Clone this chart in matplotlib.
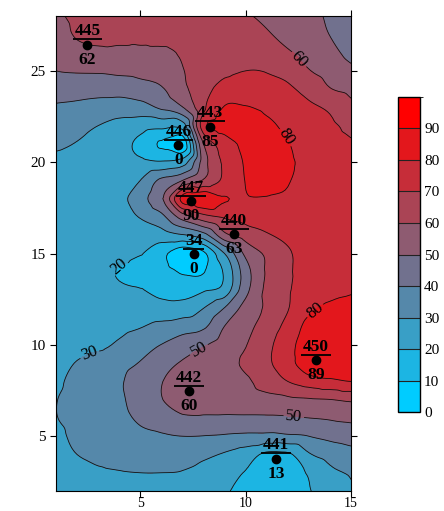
import numpy as np
import matplotlib
matplotlib.use('Agg')
import matplotlib.pyplot as plt
import matplotlib.tri as mtri
from matplotlib.colors import ListedColormap, BoundaryNorm
from matplotlib.transforms import offset_copy

plt.rcParams['font.family'] = ['Liberation Serif', 'DejaVu Serif']

# grid (x = 1..15, y = 2..28)
grid_x = np.arange(1, 16)
grid_y = np.arange(2, 29)
z_rows = [
    [24, 25, 26, 27, 27.5, 27.5, 26.5, 24.5, 21, 17.5, 15, 15, 19.5, 24, 29],          # y=2
    [25.5, 27, 28.5, 29.5, 30, 30, 29.5, 27, 23, 19.5, 15, 15.5, 21, 28, 31],          # y=3
    [27.5, 30, 32.5, 34, 35, 35.5, 34.5, 32, 29, 25, 18, 18.5, 29, 33.5, 36],          # y=4
    [28.5, 31.5, 34, 36, 38, 39, 40, 39.8, 39, 38, 37.5, 38.5, 40, 42.5, 45],          # y=5
    [29.8, 32, 35, 37.5, 41.5, 45, 48, 48.5, 48.5, 48.5, 48.5, 49, 50, 51, 52],        # y=6
    [29.8, 32.5, 35.5, 38.5, 44, 49.5, 58, 56.5, 55.5, 56, 57, 58, 59, 59.8, 61.5],    # y=7
    [28.5, 32.5, 36, 39, 44, 49.5, 57, 57.5, 57.5, 58.5, 64, 70, 75, 78, 80],          # y=8
    [27, 30.5, 34, 37, 40.5, 46, 51, 54, 57.5, 61.5, 68, 76, 87, 86.5, 83.5],          # y=9
    [25.5, 26.5, 28, 31.5, 36, 40.2, 45, 49.2, 54.3, 59.6, 67.3, 76.3, 85.5, 87.5, 86],  # y=10
    [26, 26, 26.5, 27.5, 29.5, 32.5, 35.5, 38.5, 50.2, 57, 64.5, 73, 83, 86, 86.5],    # y=11
    [26.5, 26, 25.5, 25.5, 25, 24, 24, 30, 40.5, 53.8, 61.5, 69.5, 78, 82, 83.5],      # y=12
    [27, 26.5, 25.5, 22, 20.5, 17, 16, 19, 24, 47, 62, 69, 74, 77, 79],                # y=13
    [27, 26, 24, 19, 16, 15, 9, 9.5, 21.5, 45.5, 61, 68.6, 74, 75.5, 77],              # y=14
    [27, 26.5, 25.5, 24, 20.5, 13, 3, 8, 30, 52.3, 61.5, 69, 73.5, 75, 76],            # y=15
    [27, 26, 25, 24, 24, 25.5, 29, 36, 57, 64.5, 69, 72, 74, 75, 75.5],                # y=16
    [26.5, 25.5, 25, 27, 30.5, 37, 54, 66, 71, 73, 75, 76, 76, 75.5, 75],              # y=17
    [26, 25, 25.5, 27.5, 36, 48.5, 83, 88, 80.5, 79, 79.3, 79, 77, 75, 74.5],          # y=18
    [26, 25.5, 25, 26, 30, 42, 50, 61, 72, 80.3, 85, 80.5, 77, 74.5, 74],              # y=19
    [28, 27, 26, 24.5, 22, 21, 25, 55, 72, 81, 86, 81.5, 77.5, 75, 73],                # y=20
    [31.5, 29.5, 26, 23, 17.5, 9, 2, 60, 74, 82.5, 85, 80.5, 75.5, 72.5, 70.8],        # y=21
    [35.3, 33.5, 30, 27, 24.5, 23.1, 25, 76, 85, 86, 82, 77.8, 74.7, 71.6, 68],        # y=22
    [39, 38, 36.5, 35, 36, 41.7, 49.5, 68, 80.5, 80.5, 78, 75.2, 71.6, 68.5, 62.3],    # y=23
    [44, 43.8, 43.3, 43.8, 46, 49, 57.5, 66, 74.2, 75.3, 73.8, 71.5, 67, 60.5, 57.5],  # y=24
    [50, 50.8, 51, 51.8, 52.5, 54, 59.5, 65.5, 68, 70, 69.5, 67, 60.5, 56, 52],        # y=25
    [53.5, 56.7, 57.5, 56.5, 56, 57, 61.5, 65, 67.5, 68, 65, 61, 57, 52.5, 47.5],      # y=26
    [56, 61, 63.5, 65, 66, 66.5, 66.5, 67, 67, 65, 61, 57, 53.5, 49.8, 45],            # y=27
    [58.5, 62, 64, 65, 66, 66, 66, 66, 65, 61, 58, 54, 52.5, 48.5, 43],                # y=28
]

# sampling stations
st_x = [2.49, 8.32, 6.81, 7.41, 9.44, 7.54, 13.35, 7.32, 11.44]
st_y = [26.43, 21.94, 20.92, 17.86, 16.05, 14.96, 9.15, 7.46, 3.75]
st_id = ['445', '443', '446', '447', '440', '34', '450', '442', '441']
st_val = [62, 85, 0, 90, 63, 0, 89, 60, 13]

levels = np.arange(0, 101, 10)
colors = ['#00ccff', '#1cb5e3', '#399fc6', '#5588aa', '#71718e',
          '#8e5b71', '#aa4455', '#c62d39', '#e3171c', '#ff0000']
cmap = ListedColormap(colors)
norm = BoundaryNorm(levels, cmap.N)

fig = plt.figure(figsize=(4.44, 5.11), dpi=100)
ax = fig.add_axes([0.1261, 0.0391, 0.6644, 0.9295])

X, Y = np.meshgrid(grid_x, grid_y)
Z = np.array(z_rows, dtype=float)
triang = mtri.Triangulation(X.ravel(), Y.ravel())
interp = mtri.CubicTriInterpolator(triang, Z.ravel(), kind='geom')
refiner = mtri.UniformTriRefiner(triang)
tri_f, z_f = refiner.refine_field(Z.ravel(), triinterpolator=interp, subdiv=3)
z_f = np.clip(z_f, 0.01, 99.9)

cf = ax.tricontourf(tri_f, z_f, levels=levels, cmap=cmap, norm=norm)
ax.tricontour(tri_f, z_f, levels=[10, 40, 70, 90], colors='#111111', linewidths=0.6)
cl = ax.tricontour(tri_f, z_f, levels=[20, 30, 50, 60, 80], colors='#111111', linewidths=0.6)

# contour labels
lab_pos = [(12.6, 25.7), (11.7, 21.2), (13.5, 11.6), (3.9, 14.4),
           (2.5, 9.7), (7.8, 9.7), (12.3, 6.25)]
labs = ax.clabel(cl, manual=lab_pos, fmt='%d', fontsize=12, inline=True, inline_spacing=2)
for t in labs:
    t.set_color('black')

# stations
ax.plot(st_x, st_y, 'o', color='black', ms=6, zorder=5)
up = offset_copy(ax.transData, fig=fig, y=4, units='points')
for x, y, sid, v in zip(st_x, st_y, st_id, st_val):
    w = len(sid) * 0.42 + 0.15
    ax.plot([x - w / 2, x + w / 2], [y, y], color='black', lw=1.3,
            transform=up, zorder=5, solid_capstyle='butt')
    ax.annotate(sid, (x, y), xytext=(0, 4), textcoords='offset points',
                ha='center', va='bottom', fontsize=12.5, fontweight='bold', zorder=6)
    ax.annotate(str(v), (x, y), xytext=(0, -5), textcoords='offset points',
                ha='center', va='top', fontsize=12.5, fontweight='bold', zorder=6)

ax.set_xlim(1, 15)
ax.set_ylim(2, 28)
ax.set_xticks([5, 10, 15])
ax.set_yticks([5, 10, 15, 20, 25])
ax.tick_params(direction='out', length=4, width=0.8, labelsize=11,
               top=True, right=True, labeltop=False, labelright=False)
ax.tick_params(axis='x', labelsize=10, pad=0.5)
for s in ax.spines.values():
    s.set_linewidth(0.8)

cax = fig.add_axes([0.8957, 0.1931, 0.0502, 0.6176])
cb = fig.colorbar(cf, cax=cax, ticks=levels[:-1], drawedges=True)
cb.ax.tick_params(length=0, labelsize=11, pad=3)
cb.outline.set_linewidth(1.0)
cb.dividers.set_color('#222222')
cb.dividers.set_linewidth(0.8)

fig.savefig('out.png', dpi=100)
